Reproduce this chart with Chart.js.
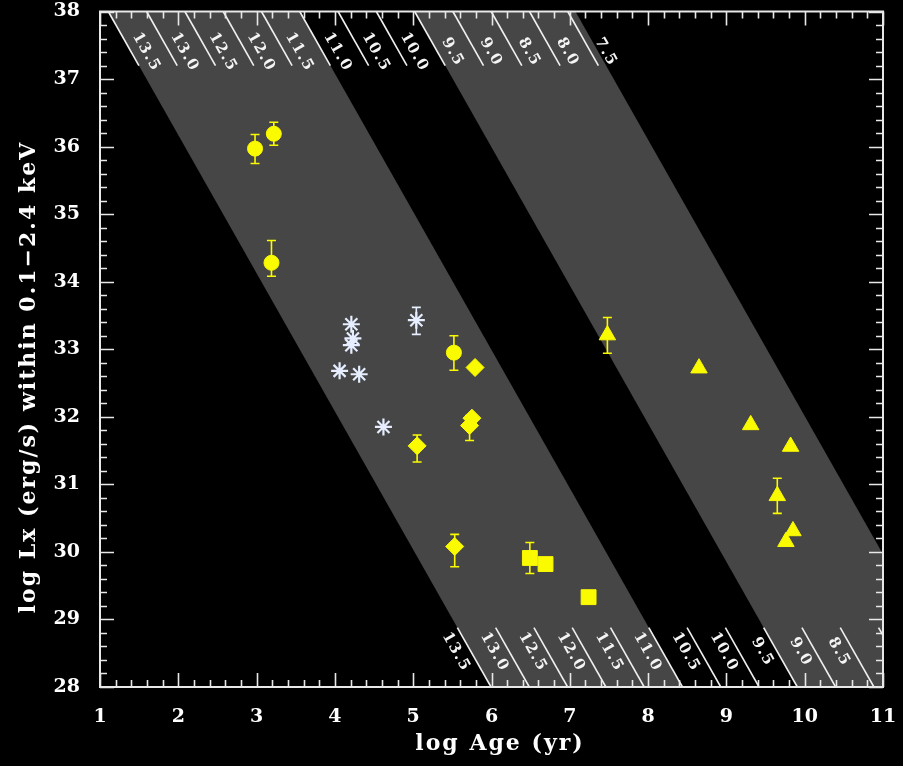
<!DOCTYPE html>
<html>
<head>
<meta charset="utf-8">
<title>log Lx vs log Age</title>
<script src="https://cdn.jsdelivr.net/npm/chart.js@4/dist/chart.umd.min.js"></script>
<style>
  html, body { margin: 0; padding: 0; background: #000; }
  #wrap { width: 903px; height: 766px; }
</style>
</head>
<body>
<div id="wrap"><canvas id="lxChart" width="903" height="766"></canvas></div>
<script>
// ---- measured sources ----
const circleX = [2.98, 3.22, 3.19, 5.52];
const circleY = [35.97, 36.19, 34.28, 32.95];
const circleErrUp = [0.21, 0.17, 0.33, 0.25];
const circleErrDown = [0.22, 0.17, 0.20, 0.26];

const diamondX = [5.79, 5.75, 5.72, 5.05, 5.53];
const diamondY = [32.73, 31.98, 31.87, 31.57, 30.08];
const diamondErrUp = [0, 0, 0.15, 0.16, 0.18];
const diamondErrDown = [0, 0, 0.22, 0.24, 0.30];

const squareX = [6.49, 6.69, 7.24];
const squareY = [29.91, 29.82, 29.33];
const squareErrUp = [0.23, 0, 0];
const squareErrDown = [0.23, 0, 0];

const triangleX = [7.48, 8.65, 9.31, 9.82, 9.65, 9.85, 9.76];
const triangleY = [33.21, 32.72, 31.88, 31.56, 30.83, 30.31, 30.15];
const triangleErrUp = [0.26, 0, 0, 0, 0.26, 0, 0];
const triangleErrDown = [0.27, 0, 0, 0, 0.26, 0, 0];

const starX = [4.21, 4.23, 4.21, 4.06, 4.31, 5.04, 4.62];
const starY = [33.37, 33.16, 33.06, 32.68, 32.63, 33.43, 31.85];
const starErrUp = [0, 0, 0, 0, 0, 0.19, 0];
const starErrDown = [0, 0, 0, 0, 0, 0.21, 0];

// ---- constant-field lines (log B) ----
const topFieldLabels = ['13.5', '13.0', '12.5', '12.0', '11.5', '11.0', '10.5', '10.0', '9.5', '9.0', '8.5', '8.0', '7.5'];
const bottomFieldLabels = ['13.5', '13.0', '12.5', '12.0', '11.5', '11.0', '10.5', '10.0', '9.5', '9.0', '8.5'];
const bottomExtraLines = ['8.0'];   // line only, its label falls off the frame
const bandRanges = [[13.5, 11.0], [9.5, 7.4]];

const X_MIN = 1, X_MAX = 11, Y_MIN = 28, Y_MAX = 38;

// x position of the log B = b line at height yv
const TOP_X = 1.106;   // where the 13.5 line meets the top axis
const SHIFT = 0.978;   // x shift per unit of log B
const RUN = 0.4888;    // x shift per unit drop in log Lx
function isoX(b, yv) {
  return TOP_X + SHIFT * (13.5 - b) + RUN * (Y_MAX - yv);
}

const YELLOW = '#fafa00';
const STAR = '#e6eeff';
const FRAME = '#e8e8e8';

function pts(xs, ys) {
  return xs.map((v, i) => ({ x: v, y: ys[i] }));
}

const errBars = [
  { up: circleErrUp, down: circleErrDown, color: YELLOW },
  { up: diamondErrUp, down: diamondErrDown, color: YELLOW },
  { up: squareErrUp, down: squareErrDown, color: YELLOW },
  { up: triangleErrUp, down: triangleErrDown, color: YELLOW },
  { up: starErrUp, down: starErrDown, color: STAR }
];

const fieldPlugin = {
  id: 'fieldBands',
  beforeDraw(chart) {
    const ctx = chart.ctx;
    ctx.save();
    ctx.fillStyle = '#000';
    ctx.fillRect(0, 0, chart.width, chart.height);
    ctx.restore();
  },
  beforeDatasetsDraw(chart) {
    const { ctx, chartArea: a, scales: { x, y } } = chart;
    const px = v => x.getPixelForValue(v);
    const py = v => y.getPixelForValue(v);

    ctx.save();
    ctx.beginPath();
    ctx.rect(a.left, a.top, a.right - a.left, a.bottom - a.top);
    ctx.clip();

    // grey bands
    ctx.fillStyle = '#464646';
    bandRanges.forEach(([b1, b2]) => {
      ctx.beginPath();
      ctx.moveTo(px(isoX(b1, Y_MAX)), py(Y_MAX));
      ctx.lineTo(px(isoX(b2, Y_MAX)), py(Y_MAX));
      ctx.lineTo(px(isoX(b2, Y_MIN)), py(Y_MIN));
      ctx.lineTo(px(isoX(b1, Y_MIN)), py(Y_MIN));
      ctx.closePath();
      ctx.fill();
    });

    // short labelled segments of each log B line
    const drawMark = (label, y0, y1, yText, dx, withText) => {
      const b = parseFloat(label);
      const x0 = px(isoX(b, y0)), p0 = py(y0);
      const x1 = px(isoX(b, y1)), p1 = py(y1);
      ctx.strokeStyle = '#f0f0f0';
      ctx.lineWidth = 1.6;
      ctx.beginPath();
      ctx.moveTo(x0, p0);
      ctx.lineTo(x1, p1);
      ctx.stroke();
      if (!withText) return;
      const ang = Math.atan2(p1 - p0, x1 - x0);
      ctx.save();
      ctx.translate(px(isoX(b, yText)) + dx, py(yText));
      ctx.rotate(ang);
      ctx.fillStyle = '#f4f4f4';
      ctx.font = 'bold 15px "DejaVu Serif"';
      ctx.letterSpacing = '1.5px';
      ctx.textAlign = 'center';
      ctx.textBaseline = 'middle';
      ctx.fillText(label, 0, 0);
      ctx.restore();
    };
    topFieldLabels.forEach(l => drawMark(l, Y_MAX, Y_MAX - 0.8, Y_MAX - 0.6, 15, true));
    bottomFieldLabels.forEach(l => drawMark(l, Y_MIN + 0.88, Y_MIN, Y_MIN + 0.52, -15, true));
    bottomExtraLines.forEach(l => drawMark(l, Y_MIN + 0.88, Y_MIN, Y_MIN + 0.52, -15, false));
    ctx.restore();

    // frame with inward ticks on all four sides
    ctx.save();
    ctx.strokeStyle = FRAME;
    ctx.lineWidth = 2;
    ctx.strokeRect(a.left, a.top, a.right - a.left, a.bottom - a.top);
    ctx.lineWidth = 1.6;
    ctx.beginPath();
    for (let i = 0; i <= (X_MAX - X_MIN) * 5; i++) {
      const v = X_MIN + i * 0.2;
      const len = i % 5 === 0 ? 14 : 7;
      const p = Math.round(px(v)) + 0.5;
      ctx.moveTo(p, a.bottom); ctx.lineTo(p, a.bottom - len);
      ctx.moveTo(p, a.top); ctx.lineTo(p, a.top + len);
    }
    for (let i = 0; i <= (Y_MAX - Y_MIN) * 5; i++) {
      const v = Y_MIN + i * 0.2;
      const len = i % 5 === 0 ? 14 : 7;
      const p = Math.round(py(v)) + 0.5;
      ctx.moveTo(a.left, p); ctx.lineTo(a.left + len, p);
      ctx.moveTo(a.right, p); ctx.lineTo(a.right - len, p);
    }
    ctx.stroke();
    ctx.restore();
  },
  afterDatasetsDraw(chart) {
    const { ctx, scales: { x, y } } = chart;
    ctx.save();
    ctx.lineWidth = 1.6;
    chart.data.datasets.forEach((ds, di) => {
      const e = errBars[di];
      ds.data.forEach((p, i) => {
        const up = e.up[i], down = e.down[i];
        if (!up && !down) return;
        const cx = x.getPixelForValue(p.x);
        const yt = y.getPixelForValue(p.y + up);
        const yb = y.getPixelForValue(p.y - down);
        ctx.strokeStyle = e.color;
        ctx.beginPath();
        ctx.moveTo(cx, yt); ctx.lineTo(cx, yb);
        ctx.moveTo(cx - 4.5, yt); ctx.lineTo(cx + 4.5, yt);
        ctx.moveTo(cx - 4.5, yb); ctx.lineTo(cx + 4.5, yb);
        ctx.stroke();
      });
    });
    ctx.restore();
  },
  afterDraw(chart) {
    // axis titles, widely tracked
    const ctx = chart.ctx;
    ctx.save();
    ctx.fillStyle = '#fff';
    ctx.font = 'bold 22px "DejaVu Serif"';
    ctx.letterSpacing = '2px';
    ctx.textAlign = 'center';
    ctx.textBaseline = 'middle';
    ctx.fillText('log Age (yr)', 500, 744);
    ctx.translate(29, 377);
    ctx.rotate(-Math.PI / 2);
    ctx.fillText('log Lx (erg/s) within 0.1\u22122.4 keV', 0, 0);
    ctx.restore();
  }
};

const tickFont = { family: '"DejaVu Serif"', weight: 'bold', size: 19 };

new Chart(document.getElementById('lxChart'), {
  type: 'scatter',
  data: {
    datasets: [
      { data: pts(circleX, circleY), pointStyle: 'circle', pointRadius: 7.5,
        backgroundColor: YELLOW, borderColor: YELLOW, borderWidth: 1 },
      { data: pts(diamondX, diamondY), pointStyle: 'rectRot', pointRadius: 9,
        backgroundColor: YELLOW, borderColor: YELLOW, borderWidth: 1 },
      { data: pts(squareX, squareY), pointStyle: 'rect', pointRadius: 10.5,
        backgroundColor: YELLOW, borderColor: YELLOW, borderWidth: 1 },
      { data: pts(triangleX, triangleY), pointStyle: 'triangle', pointRadius: 9.5,
        backgroundColor: YELLOW, borderColor: YELLOW, borderWidth: 1 },
      { data: pts(starX, starY), pointStyle: 'star', pointRadius: 8.5,
        backgroundColor: STAR, borderColor: STAR, borderWidth: 2.2 }
    ]
  },
  options: {
    responsive: false,
    animation: false,
    layout: { padding: { top: 9, right: 20, left: 0, bottom: 0 } },
    plugins: { legend: { display: false }, tooltip: { enabled: false } },
    scales: {
      x: {
        type: 'linear', min: X_MIN, max: X_MAX,
        grid: { display: false }, border: { display: false },
        ticks: { stepSize: 1, color: '#fff', font: tickFont, padding: 11, autoSkip: false },
        afterFit(s) { s.height = 79; s.paddingLeft = 0; s.paddingRight = 0; }
      },
      y: {
        type: 'linear', min: Y_MIN, max: Y_MAX,
        grid: { display: false }, border: { display: false },
        ticks: { stepSize: 1, color: '#fff', font: tickFont, padding: 12 },
        afterFit(s) { s.width = 100; s.paddingTop = 0; s.paddingBottom = 0; }
      }
    }
  },
  plugins: [fieldPlugin]
});
</script>
</body>
</html>
